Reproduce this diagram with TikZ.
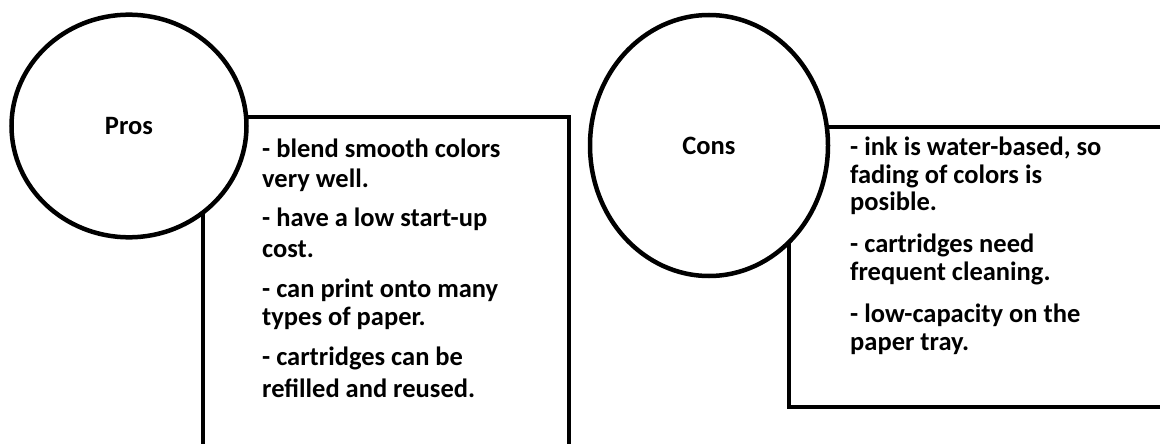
\documentclass[tikz,border=0pt]{standalone}
\usepackage{fontspec}
\setmainfont{Carlito}
\usetikzlibrary{shapes.geometric}
\begin{document}
\begin{tikzpicture}[x=1pt,y=-1pt,
  panel/.style={draw=black, line width=4pt},
  bubble/.style={ellipse, draw=black, line width=4.5pt, fill=white, inner sep=0pt,
    font=\fontsize{26.5}{30}\selectfont\bfseries},
  item/.style={anchor=base west, inner sep=0pt, font=\fontsize{26.5}{30}\selectfont\bfseries}]
\useasboundingbox (0,0) rectangle (1160,444);
\clip (0,0) rectangle (1160,444);
\fill[white] (0,0) rectangle (1160,444);
% panels
\draw[panel] (203,117) rectangle (569,480);
\draw[panel] (789,127) rectangle (1190,407);
% bubbles
\node[bubble, minimum width=235pt, minimum height=222.6pt] (pros) at (129,126) {Pros};
\node[bubble, minimum width=238pt, minimum height=261pt] (cons) at (709,145.5) {Cons};
% pros text
\node[item] (p1a) at (262,157) {- blend smooth colors};
\node[item] (p1b) at (262,187) {very well.};
\node[item] (p2a) at (262,226) {- have a low start-up};
\node[item] (p2b) at (262,257) {cost.};
\node[item] (p3a) at (262,297) {- can print onto many};
\node[item] (p3b) at (262,325) {types of paper.};
\node[item] (p4a) at (262,365) {- cartridges can be};
\node[item] (p4b) at (262,397) {refilled and reused.};
% cons text
\node[item] (c1a) at (850,155) {- ink is water-based, so};
\node[item] (c1b) at (850,183) {fading of colors is};
\node[item] (c1c) at (850,210) {posible.};
\node[item] (c2a) at (850,252) {- cartridges need};
\node[item] (c2b) at (850,280) {frequent cleaning.};
\node[item] (c3a) at (850,322) {- low-capacity on the};
\node[item] (c3b) at (850,350) {paper tray.};
\end{tikzpicture}
\end{document}
